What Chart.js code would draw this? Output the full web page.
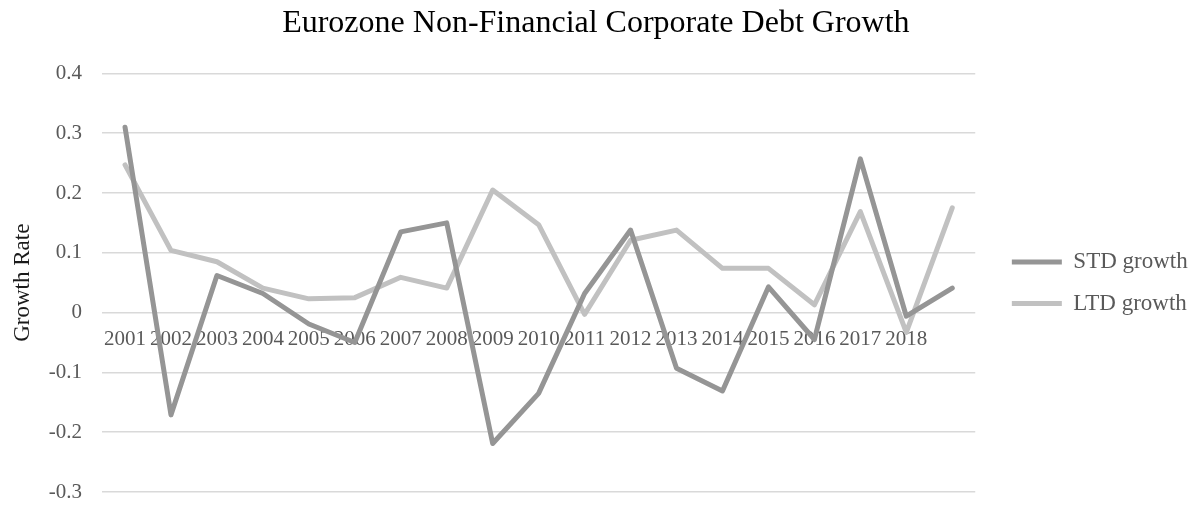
<!DOCTYPE html>
<html>
<head>
<meta charset="utf-8">
<script src="https://cdn.jsdelivr.net/npm/chart.js@4.4.1/dist/chart.umd.min.js"></script>
<style>
  html, body { margin: 0; padding: 0; background: #fff; }
  #wrap { width: 1201px; height: 506px; }
</style>
</head>
<body>
<div id="wrap"><canvas id="debtChart" width="1201" height="506"></canvas></div>
<script>
/* ===== DATA ===== */

// Category labels (the 19th point has no label on the axis)
const years = ['2001', '2002', '2003', '2004', '2005', '2006', '2007', '2008', '2009', '2010',
  '2011', '2012', '2013', '2014', '2015', '2016', '2017', '2018', ''];

// Short-term debt growth
const stdGrowth = [0.310, -0.171, 0.062, 0.032, -0.019, -0.050, 0.135, 0.150, -0.219, -0.135,
  0.032, 0.138, -0.093, -0.131, 0.043, -0.045, 0.257, -0.006, 0.041];

// Long-term debt growth
const ltdGrowth = [0.247, 0.104, 0.085, 0.041, 0.023, 0.025, 0.059, 0.041, 0.205, 0.147,
  -0.003, 0.121, 0.138, 0.074, 0.074, 0.013, 0.169, -0.033, 0.175];

const yTicks = { min: -0.3, max: 0.4, step: 0.1 };

/* ===== HELPERS ===== */

const FONT_FAMILY = '"Times New Roman", "Liberation Serif", serif';

// nudge legend away from the plot and centre the title on the whole chart, like the original
const blockShift = {
  id: 'blockShift',
  afterLayout(chart) {
    if (chart.legend) {
      chart.legend.left += 18;
      chart.legend.right += 18;
    }
    if (chart.titleBlock) {
      chart.titleBlock.left += 6;
      chart.titleBlock.right += 6;
    }
  }
};

/* ===== CHART ===== */

(function() {
  const ctx = document.getElementById('debtChart');
  if (!ctx) return;

  new Chart(ctx, {
    type: 'line',
    data: {
      labels: years,
      datasets: [
        {
          label: 'STD growth',
          data: stdGrowth,
          borderColor: '#959595',
          backgroundColor: '#959595',
          borderWidth: 5,
          borderCapStyle: 'round',
          borderJoinStyle: 'round',
          pointRadius: 0,
          tension: 0,
        },
        {
          label: 'LTD growth',
          data: ltdGrowth,
          borderColor: '#c1c1c1',
          backgroundColor: '#c1c1c1',
          borderWidth: 5,
          borderCapStyle: 'round',
          borderJoinStyle: 'round',
          pointRadius: 0,
          tension: 0,
        },
      ]
    },
    options: {
      responsive: false,
      animation: false,
      layout: { padding: { left: 0, right: 21.3, top: 0, bottom: 14 } },
      plugins: {
        title: {
          display: true,
          text: 'Eurozone Non-Financial Corporate Debt Growth',
          color: '#000',
          font: { family: FONT_FAMILY, size: 32, weight: 'normal' },
          padding: { top: 4, bottom: 31 },
        },
        legend: {
          position: 'right',
          fullSize: false,
          labels: {
            usePointStyle: true,
            pointStyle: 'line',
            pointStyleWidth: 50,
            padding: 18.6,
            color: '#595959',
            font: { family: FONT_FAMILY, size: 23 },
          }
        },
        tooltip: { enabled: false }
      },
      scales: {
        x: {
          position: { y: 0 },
          offset: true,
          grid: { display: false, drawTicks: false },
          border: { display: false },
          ticks: {
            autoSkip: false,
            maxRotation: 0,
            minRotation: 0,
            padding: 14,
            color: '#595959',
            font: { family: FONT_FAMILY, size: 21 },
          }
        },
        y: {
          min: yTicks.min,
          max: yTicks.max,
          grid: {
            color: '#d9d9d9',
            lineWidth: 1.5,
            drawTicks: true,
            tickLength: 18.6,
            tickColor: 'rgba(0,0,0,0)',
          },
          border: { display: false },
          title: {
            display: true,
            text: 'Growth Rate',
            color: '#1a1a1a',
            font: { family: FONT_FAMILY, size: 23 },
            padding: { top: 9, bottom: 10.8 },
          },
          ticks: {
            stepSize: yTicks.step,
            padding: 1.4,
            color: '#595959',
            font: { family: FONT_FAMILY, size: 21 },
            callback(v) { return String(Math.round(v * 10) / 10); }
          }
        }
      }
    },
    plugins: [blockShift]
  });
})();
</script>
</body>
</html>
